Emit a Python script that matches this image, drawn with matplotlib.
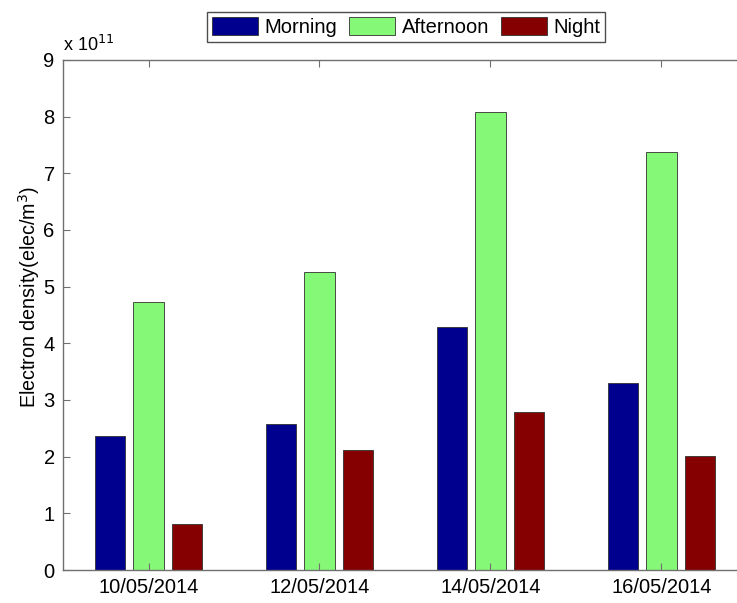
import numpy as np
import matplotlib.pyplot as plt

plt.rcParams['font.family'] = ['Liberation Sans', 'DejaVu Sans']

# electron density per period, in units of 1e11 elec/m^3
dates = ['10/05/2014', '12/05/2014', '14/05/2014', '16/05/2014']
morning = [2.37, 2.58, 4.28, 3.30]
afternoon = [4.73, 5.26, 8.08, 7.38]
night = [0.81, 2.12, 2.79, 2.01]

series = [('Morning', morning, '#00008f'),
          ('Afternoon', afternoon, '#86f877'),
          ('Night', night, '#850000')]

fig = plt.figure(figsize=(7.37, 6.03), dpi=100)
ax = fig.add_axes([0.0855, 0.0547, 0.928, 0.846])

x = np.arange(1, len(dates) + 1)
offsets = [-0.225, 0.0, 0.225]
width = 0.18
for (label, vals, color), off in zip(series, offsets):
    ax.bar(x + off, vals, width, color=color, edgecolor='#303030',
           linewidth=0.6, label=label)

ax.set_xlim(0.5, 4.5)
ax.set_ylim(0, 9)
ax.set_xticks(x)
ax.set_xticklabels(dates, fontsize=14.5)
ax.set_yticks(range(0, 10))
ax.tick_params(axis='y', labelsize=14.5)
ax.tick_params(direction='in', length=5, width=0.8, color='#707070',
               top=True, right=True, pad=6)
for sp in ax.spines.values():
    sp.set_color('#707070')
    sp.set_linewidth(1.0)

ax.set_ylabel('Electron density(elec/m$^3$)', fontsize=14.2)
ax.yaxis.set_label_coords(-0.031, 0.535)
ax.text(0.0, 1.01, r'x 10$^{11}$', transform=ax.transAxes, fontsize=13,
        ha='left', va='bottom')

fig.legend(loc='center', bbox_to_anchor=(0.551, 0.955), ncol=3, fontsize=14.5,
           frameon=True, fancybox=False, edgecolor='#202020',
           handlelength=2.3, handleheight=1.0, handletextpad=0.3,
           columnspacing=0.6, borderpad=0.25, borderaxespad=0)

fig.savefig('out.png', dpi=100)
